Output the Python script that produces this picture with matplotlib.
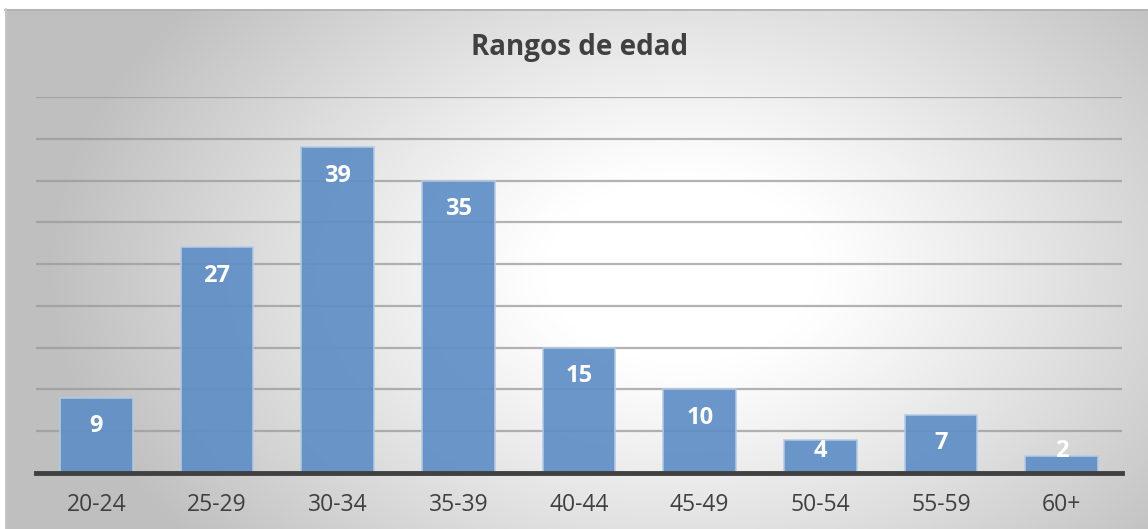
import numpy as np
import matplotlib
matplotlib.use("Agg")
import matplotlib.pyplot as plt

categories = ["20-24", "25-29", "30-34", "35-39", "40-44", "45-49", "50-54", "55-59", "60+"]
values = [9, 27, 39, 35, 15, 10, 4, 7, 2]
title = "Rangos de edad"

W, H = 1148, 529
fig = plt.figure(figsize=(W / 100, H / 100), dpi=100)
fig.patch.set_facecolor("white")

# background gradient panel
bg = fig.add_axes([5 / W, 0, 1 - 5 / W, (H - 9) / H])
bg.set_zorder(0)
ny, nx = 260, 572
yy, xx = np.mgrid[0:ny, 0:nx]
px = 5 + xx * (W - 5) / nx
py = 9 + yy * (H - 9) / ny
d = np.sqrt(((px - 680) / 620) ** 2 + ((py - 270) / 420) ** 2)
d = np.clip((d - 0.22) / 0.8, 0, 1)
g = 1.0 - 0.25 * d ** 1.1
img = np.dstack([g, g, g])
bg.imshow(img, aspect="auto", extent=[0, 1, 0, 1], origin="upper", interpolation="bilinear")
bg.set_xlim(0, 1)
bg.set_ylim(0, 1)
bg.axis("off")
fig.add_artist(plt.Line2D([5 / W, 1], [(H - 9.5) / H, (H - 9.5) / H], color="#b0b0b0", lw=1.2))
fig.add_artist(plt.Line2D([5.5 / W, 5.5 / W], [0, (H - 9) / H], color="#c8c8c8", lw=1.2))

ax = fig.add_axes([36 / W, 56 / H, (1122 - 36) / W, (473 - 97) / H])
ax.set_zorder(1)
ax.patch.set_alpha(0)
x = np.arange(len(categories))
ax.set_xlim(-0.5, len(categories) - 0.5)
ax.set_ylim(0, 45)
ax.set_yticks(np.arange(5, 46, 5))
ax.yaxis.grid(True, color="#9a9a9a", lw=1.6, alpha=0.75, zorder=0)
ax.set_axisbelow(True)
ax.bar(x, values, width=0.6, color="#5f8ec6", alpha=0.92, edgecolor="#b4cbe6", lw=1.2, zorder=2)
for sp in ["top", "right", "left"]:
    ax.spines[sp].set_visible(False)
ax.spines["bottom"].set_color("#404040")
ax.spines["bottom"].set_linewidth(3.5)
ax.spines["bottom"].set_zorder(3)
ax.tick_params(axis="y", left=False, labelleft=False)
ax.tick_params(axis="x", bottom=False, pad=11)
ax.set_xticks(x)
ax.set_xticklabels(categories, fontsize=16.5, color="#404040", family="Open Sans")

for xi, v in zip(x, values):
    ly = max(v - 3.4, 2.6)
    ax.text(xi, ly, str(v), ha="center", va="center", color="white",
            fontsize=17, fontweight="bold", family="Open Sans", zorder=4)

fig.text(580 / W, 1 - 47 / H, title, ha="center", va="center", fontsize=20,
         fontweight="bold", color="#404040", family="Open Sans")

fig.savefig("out.png", dpi=100)
